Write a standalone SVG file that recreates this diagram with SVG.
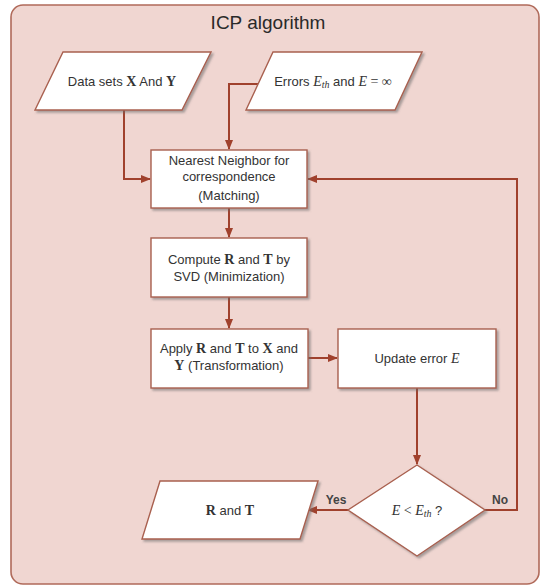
<svg xmlns="http://www.w3.org/2000/svg" width="549" height="588" viewBox="0 0 549 588">
  <style>
    .panel { fill: #f0d6d1; stroke: #b06a5a; stroke-width: 1.6; }
    .node { fill: #ffffff; stroke: #a9604f; stroke-width: 1.4; filter: url(#shadow); }
    .txt { font-family: "Liberation Sans", Arial, sans-serif; font-size: 13px; fill: #333333; text-anchor: middle; }
    .title { font-family: "Liberation Sans", Arial, sans-serif; font-size: 19px; fill: #2a2a2a; text-anchor: middle; }
    .lbl { font-family: "Liberation Sans", Arial, sans-serif; font-size: 12px; font-weight: bold; fill: #444444; text-anchor: middle; }
    .m { font-family: "Liberation Serif", "Times New Roman", serif; font-size: 14px; }
    .b { font-weight: bold; }
    .i { font-style: italic; }
    .sub { font-size: 10px; }
    .wire { fill: none; stroke: #a0412d; stroke-width: 2; marker-end: url(#arrow); }
  </style>
  <defs>
    <filter id="shadow" x="-10%" y="-10%" width="130%" height="140%">
      <feDropShadow dx="2" dy="2" stdDeviation="1.2" flood-color="#6b6b6b" flood-opacity="0.55"/>
    </filter>
    <marker id="arrow" markerUnits="userSpaceOnUse" markerWidth="10" markerHeight="10" viewBox="0 0 10 10" refX="9" refY="5" orient="auto">
      <path d="M0,1 L10,5 L0,9 Z" fill="#a0412d"/>
    </marker>
  </defs>

  <!-- outer panel -->
  <rect class="panel" x="11" y="5" width="528" height="579" rx="12" ry="12"/>
  <text class="title" x="268" y="29">ICP algorithm</text>

  <!-- connectors -->
  <g id="connectors">
    <path class="wire" d="M124,110 V179 H150"/>
    <path class="wire" d="M258,84 H229 V149"/>
    <path class="wire" d="M229,208 V237"/>
    <path class="wire" d="M229,297 V328"/>
    <path class="wire" d="M308,358 H337"/>
    <path class="wire" d="M417,388 V464"/>
    <path class="wire" d="M348,510 H308"/>
    <path class="wire" d="M485,510 H517 V179 H308"/>
  </g>

  <g id="input-data">
    <polygon class="node" points="63,52 211,52 182,110 35,110"/>
    <text class="txt" x="122" y="86">Data sets <tspan class="m b">X</tspan> And <tspan class="m b">Y</tspan></text>
  </g>

  <g id="input-errors">
    <polygon class="node" points="273,52 422,52 395,110 246,110"/>
    <text class="txt" x="333" y="86">Errors <tspan class="m i">E</tspan><tspan class="m i sub" dy="2">th</tspan><tspan dy="-2"> and </tspan><tspan class="m i">E</tspan><tspan class="m"> = ∞</tspan></text>
  </g>

  <g id="matching">
    <rect class="node" x="151" y="150" width="156" height="58"/>
    <text class="txt" x="229" y="165">Nearest Neighbor for</text>
    <text class="txt" x="229" y="181">correspondence</text>
    <text class="txt" x="229" y="200">(Matching)</text>
  </g>

  <g id="minimization">
    <rect class="node" x="151" y="238" width="156" height="59"/>
    <text class="txt" x="229" y="264">Compute <tspan class="m b">R</tspan> and <tspan class="m b">T</tspan> by</text>
    <text class="txt" x="229" y="281">SVD (Minimization)</text>
  </g>

  <g id="transformation">
    <rect class="node" x="151" y="329" width="157" height="59"/>
    <text class="txt" x="229" y="353">Apply <tspan class="m b">R</tspan> and <tspan class="m b">T</tspan> to <tspan class="m b">X</tspan> and</text>
    <text class="txt" x="229" y="370"><tspan class="m b">Y</tspan> (Transformation)</text>
  </g>

  <g id="update-error">
    <rect class="node" x="338" y="329" width="158" height="59"/>
    <text class="txt" x="417" y="363">Update error <tspan class="m i">E</tspan></text>
  </g>

  <g id="check">
    <polygon class="node" points="417,465 485,510 417,556 348,510"/>
    <text class="txt" x="417" y="515"><tspan class="m i">E</tspan><tspan class="m"> &lt; </tspan><tspan class="m i">E</tspan><tspan class="m i sub" dy="2">th</tspan><tspan dy="-2"> ?</tspan></text>
  </g>

  <g id="output">
    <polygon class="node" points="160,481 318,481 300,539 142,539"/>
    <text class="txt" x="230" y="515"><tspan class="m b">R</tspan> and <tspan class="m b">T</tspan></text>
  </g>

  <text class="lbl" x="336" y="504">Yes</text>
  <text class="lbl" x="500" y="504">No</text>
</svg>
